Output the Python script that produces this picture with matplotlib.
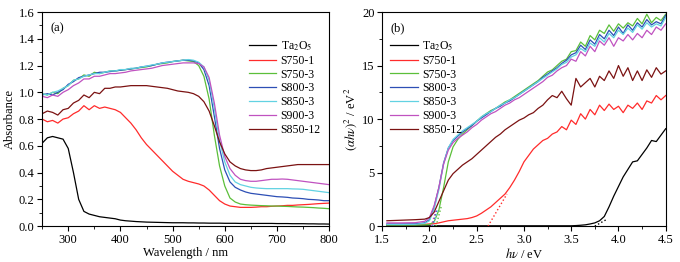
import numpy as np
import matplotlib
matplotlib.use('Agg')
import matplotlib.pyplot as plt
from matplotlib.ticker import MultipleLocator

plt.rcParams['font.family'] = ['Liberation Serif', 'DejaVu Serif']
plt.rcParams['mathtext.fontset'] = 'stix'
plt.rcParams['font.size'] = 9

labels = [r'Ta$_2$O$_5$', 'S750-1', 'S750-3', 'S800-3', 'S850-3', 'S900-3', 'S850-12']
colors = ['#000000', '#ff2b2b', '#5bbf3a', '#2d4fb5', '#62d2e2', '#c052c0', '#7b1212']

# ---- panel (a): absorbance vs wavelength
wl = list(range(250, 801, 10))
ab_ta2o5 = [0.62, 0.66, 0.67, 0.66, 0.65, 0.58, 0.40, 0.20, 0.11, 0.09, 0.08, 0.07, 0.065, 0.06, 0.055, 0.045,
            0.04, 0.037, 0.034, 0.032, 0.03, 0.029, 0.028, 0.027, 0.026, 0.025, 0.025, 0.025, 0.024, 0.024,
            0.023, 0.023, 0.022, 0.022, 0.022, 0.021, 0.021, 0.021, 0.02, 0.02, 0.02, 0.02, 0.02, 0.02, 0.02,
            0.019, 0.019, 0.019, 0.018, 0.018, 0.018, 0.017, 0.017, 0.016, 0.016, 0.015]
ab_s750_1 = [0.80, 0.78, 0.79, 0.77, 0.80, 0.81, 0.84, 0.86, 0.90, 0.87, 0.90, 0.88, 0.89, 0.88, 0.87, 0.85,
             0.81, 0.77, 0.72, 0.66, 0.61, 0.57, 0.53, 0.49, 0.45, 0.41, 0.38, 0.35, 0.335, 0.325, 0.315,
             0.30, 0.27, 0.23, 0.19, 0.165, 0.15, 0.145, 0.14, 0.14, 0.14, 0.142, 0.145, 0.145, 0.148, 0.15,
             0.152, 0.155, 0.155, 0.158, 0.16, 0.162, 0.165, 0.168, 0.17, 0.172]
ab_s750_3 = [0.99, 0.98, 1.00, 0.99, 1.03, 1.05, 1.09, 1.10, 1.13, 1.12, 1.15, 1.14, 1.15, 1.16, 1.16, 1.165,
             1.17, 1.175, 1.18, 1.185, 1.19, 1.20, 1.21, 1.215, 1.22, 1.23, 1.235, 1.24, 1.235, 1.23, 1.20,
             1.12, 0.95, 0.68, 0.45, 0.30, 0.21, 0.18, 0.165, 0.16, 0.157, 0.155, 0.153, 0.152, 0.15, 0.15,
             0.148, 0.147, 0.145, 0.143, 0.142, 0.14, 0.138, 0.135, 0.133, 0.13]
ab_s800_3 = [0.98, 0.99, 0.98, 1.00, 1.02, 1.06, 1.08, 1.11, 1.12, 1.13, 1.14, 1.15, 1.15, 1.155, 1.16, 1.165,
             1.17, 1.175, 1.18, 1.19, 1.195, 1.20, 1.21, 1.22, 1.225, 1.23, 1.235, 1.24, 1.24, 1.235, 1.22,
             1.17, 1.05, 0.82, 0.58, 0.42, 0.33, 0.29, 0.27, 0.255, 0.245, 0.24, 0.235, 0.23, 0.225, 0.22,
             0.218, 0.215, 0.21, 0.208, 0.205, 0.20, 0.198, 0.195, 0.19, 0.19]
ab_s850_3 = [0.99, 0.98, 1.00, 1.01, 1.03, 1.05, 1.09, 1.10, 1.12, 1.13, 1.14, 1.14, 1.15, 1.16, 1.16, 1.17,
             1.17, 1.18, 1.18, 1.19, 1.195, 1.205, 1.21, 1.22, 1.225, 1.23, 1.235, 1.24, 1.245, 1.24, 1.225,
             1.19, 1.09, 0.88, 0.64, 0.48, 0.38, 0.33, 0.31, 0.30, 0.29, 0.285, 0.282, 0.28, 0.28, 0.28,
             0.28, 0.28, 0.278, 0.277, 0.275, 0.27, 0.265, 0.26, 0.255, 0.25]
ab_s900_3 = [0.97, 0.96, 0.98, 0.97, 1.00, 1.02, 1.05, 1.07, 1.10, 1.10, 1.12, 1.12, 1.13, 1.14, 1.14, 1.145,
             1.15, 1.16, 1.165, 1.17, 1.175, 1.18, 1.19, 1.20, 1.205, 1.21, 1.215, 1.22, 1.22, 1.22, 1.215,
             1.19, 1.11, 0.92, 0.68, 0.52, 0.43, 0.38, 0.35, 0.34, 0.335, 0.335, 0.34, 0.345, 0.35, 0.35,
             0.352, 0.35, 0.345, 0.34, 0.335, 0.33, 0.325, 0.32, 0.315, 0.31]
ab_s850_12 = [0.84, 0.86, 0.85, 0.83, 0.87, 0.88, 0.92, 0.94, 0.98, 0.96, 1.00, 0.99, 1.03, 1.03, 1.04, 1.04,
              1.045, 1.05, 1.05, 1.05, 1.05, 1.045, 1.04, 1.035, 1.03, 1.02, 1.01, 1.005, 1.0, 0.99, 0.97,
              0.93, 0.86, 0.75, 0.63, 0.54, 0.48, 0.45, 0.43, 0.42, 0.415, 0.415, 0.42, 0.43, 0.435, 0.44,
              0.445, 0.45, 0.455, 0.46, 0.46, 0.46, 0.46, 0.46, 0.46, 0.46]
series_a = [ab_ta2o5, ab_s750_1, ab_s750_3, ab_s800_3, ab_s850_3, ab_s900_3, ab_s850_12]

# ---- panel (b): Tauc plot
hv = [1.55, 1.7, 1.85, 1.95] + [round(v, 2) for v in np.arange(2.0, 4.501, 0.05)]
t_ta2o5 = [0.03] * 4 + [0.03] * 31 + [0.05, 0.08, 0.12, 0.2, 0.3, 0.5, 0.9, 1.8, 2.8, 3.7, 4.6, 5.3, 6.0,
                                      6.1, 6.7, 7.3, 8.0, 7.9, 8.5, 9.1]
t_s750_1 = [0.15, 0.15, 0.15, 0.17, 0.2, 0.22, 0.3, 0.4, 0.5, 0.55, 0.6, 0.65, 0.7, 0.8, 0.95, 1.2, 1.5, 1.8,
            2.2, 2.6, 3.0, 3.6, 4.3, 5.1, 6.0, 6.6, 7.2, 7.6, 8.0, 8.2, 8.6, 8.8, 9.3, 9.0, 9.9, 9.5, 10.5,
            10.0, 10.9, 10.4, 11.3, 10.8, 11.4, 10.9, 11.2, 10.6, 11.3, 11.0, 11.5, 10.9, 11.7, 11.5, 12.2,
            11.8, 12.2]
t_s750_3 = [0.1, 0.1, 0.1, 0.12, 0.15, 0.4, 1.5, 3.6, 6.0, 7.4, 8.1, 8.6, 9.0, 9.4, 9.8, 10.2, 10.5, 10.8,
            11.0, 11.3, 11.6, 11.8, 12.1, 12.4, 12.7, 13.0, 13.3, 13.6, 14.0, 14.4, 14.6, 15.0, 15.4, 15.6,
            16.3, 16.4, 17.2, 16.8, 17.8, 17.4, 18.3, 18.0, 18.8, 18.2, 18.9, 18.5, 19.0, 18.7, 19.4, 18.9,
            19.8, 19.0, 19.5, 19.2, 19.8]
t_s800_3 = [0.2, 0.2, 0.22, 0.3, 0.6, 1.8, 3.6, 5.9, 7.3, 8.0, 8.4, 8.8, 9.1, 9.4, 9.8, 10.1, 10.4, 10.7,
            11.0, 11.2, 11.5, 11.7, 12.0, 12.3, 12.6, 12.9, 13.2, 13.5, 13.9, 14.2, 14.5, 14.8, 15.2, 15.5,
            16.0, 16.2, 16.9, 16.5, 17.4, 17.0, 17.9, 17.5, 18.3, 17.8, 18.6, 18.0, 18.8, 18.3, 19.0, 18.6,
            19.3, 18.8, 19.1, 18.9, 19.7]
t_s850_3 = [0.15, 0.15, 0.17, 0.25, 0.5, 1.6, 3.4, 5.8, 7.3, 8.1, 8.5, 8.9, 9.2, 9.5, 9.8, 10.2, 10.5, 10.7,
            11.0, 11.3, 11.5, 11.8, 12.0, 12.3, 12.6, 12.9, 13.2, 13.5, 13.8, 14.1, 14.4, 14.7, 15.1, 15.3,
            15.8, 16.0, 16.6, 16.3, 17.1, 16.8, 17.6, 17.2, 18.0, 17.6, 18.3, 17.9, 18.5, 18.1, 18.8, 18.4,
            19.0, 18.6, 18.9, 18.7, 19.5]
t_s900_3 = [0.3, 0.3, 0.32, 0.45, 0.8, 1.9, 3.6, 5.8, 7.1, 7.8, 8.2, 8.5, 8.8, 9.2, 9.5, 9.9, 10.2, 10.5,
            10.7, 11.0, 11.3, 11.5, 11.8, 12.0, 12.3, 12.6, 12.9, 13.2, 13.5, 13.9, 14.1, 14.5, 14.8, 15.0,
            15.6, 15.4, 16.3, 15.9, 16.8, 16.3, 17.3, 16.9, 17.6, 16.8, 17.6, 17.3, 17.9, 17.4, 18.0, 17.6,
            18.3, 17.9, 18.6, 18.3, 18.9]
t_s850_12 = [0.5, 0.55, 0.6, 0.65, 0.8, 1.3, 2.3, 3.3, 4.3, 4.9, 5.3, 5.7, 6.0, 6.3, 6.7, 7.1, 7.5, 7.9,
             8.3, 8.6, 9.0, 9.3, 9.6, 9.9, 10.1, 10.4, 10.6, 11.0, 11.3, 11.8, 12.2, 12.0, 12.6, 11.9, 11.3,
             13.8, 13.0, 13.4, 13.8, 13.0, 14.0, 13.6, 14.5, 13.8, 15.0, 14.0, 14.8, 13.6, 14.5, 13.6, 14.6,
             13.9, 14.8, 14.2, 14.5]
series_b = [t_ta2o5, t_s750_1, t_s750_3, t_s800_3, t_s850_3, t_s900_3, t_s850_12]

# tangent lines (x0, x1, y0, y1, series index) used for band gap extrapolation
tangents = [(3.75, 3.87, 0.0, 0.6, 0), (2.62, 2.82, 0.0, 3.0, 1), (2.07, 2.13, 0.0, 2.0, 2),
            (2.03, 2.08, 0.0, 1.5, 3), (2.04, 2.09, 0.0, 1.5, 4), (2.02, 2.07, 0.0, 1.5, 5)]

fig = plt.figure(figsize=(6.8, 2.62), dpi=100)
ax1 = fig.add_axes([0.062, 0.137, 0.422, 0.817])
ax2 = fig.add_axes([0.562, 0.137, 0.417, 0.817])

for ys, lab, c in zip(series_a, labels, colors):
    ax1.plot(wl, ys, color=c, lw=0.9, label=lab)
ax1.set_xlim(250, 800)
ax1.set_ylim(0, 1.6)
ax1.xaxis.set_major_locator(MultipleLocator(100))
ax1.xaxis.set_minor_locator(MultipleLocator(50))
ax1.yaxis.set_major_locator(MultipleLocator(0.2))
ax1.yaxis.set_minor_locator(MultipleLocator(0.1))
ax1.yaxis.set_major_formatter(plt.FormatStrFormatter('%.1f'))
ax1.set_xlabel('Wavelength / nm', labelpad=1)
ax1.set_ylabel('Absorbance', labelpad=2)
ax1.text(0.03, 0.95, '(a)', transform=ax1.transAxes, va='top')
ax1.legend(loc='upper right', bbox_to_anchor=(1.0, 0.91), frameon=False, fontsize=8.5,
           handlelength=2.3, labelspacing=0.15, handletextpad=0.4, borderaxespad=0.3)

for ys, lab, c in zip(series_b, labels, colors):
    ax2.plot(hv, ys, color=c, lw=0.9, label=lab)
for x0, x1, y0, y1, k in tangents:
    ax2.plot([x0, x1], [y0, y1], color=colors[k], lw=1.0, ls=':')
ax2.set_xlim(1.5, 4.5)
ax2.set_ylim(0, 20)
ax2.xaxis.set_major_locator(MultipleLocator(0.5))
ax2.xaxis.set_minor_locator(MultipleLocator(0.25))
ax2.yaxis.set_major_locator(MultipleLocator(5))
ax2.yaxis.set_minor_locator(MultipleLocator(2.5))
ax2.set_xlabel(r'$h\nu$ / eV', labelpad=1)
ax2.set_ylabel(r'$(\alpha h\nu)^2$ / eV$^2$', labelpad=2)
ax2.text(0.03, 0.95, '(b)', transform=ax2.transAxes, va='top')
ax2.legend(loc='upper left', bbox_to_anchor=(0.0, 0.91), frameon=False, fontsize=8.5,
           handlelength=2.3, labelspacing=0.15, handletextpad=0.4, borderaxespad=0.3)

for ax in (ax1, ax2):
    ax.tick_params(which='both', direction='out', top=False, right=False)
    ax.tick_params(which='major', length=3.5, pad=2)
    ax.tick_params(which='minor', length=2)

fig.savefig('out.png', dpi=100)
